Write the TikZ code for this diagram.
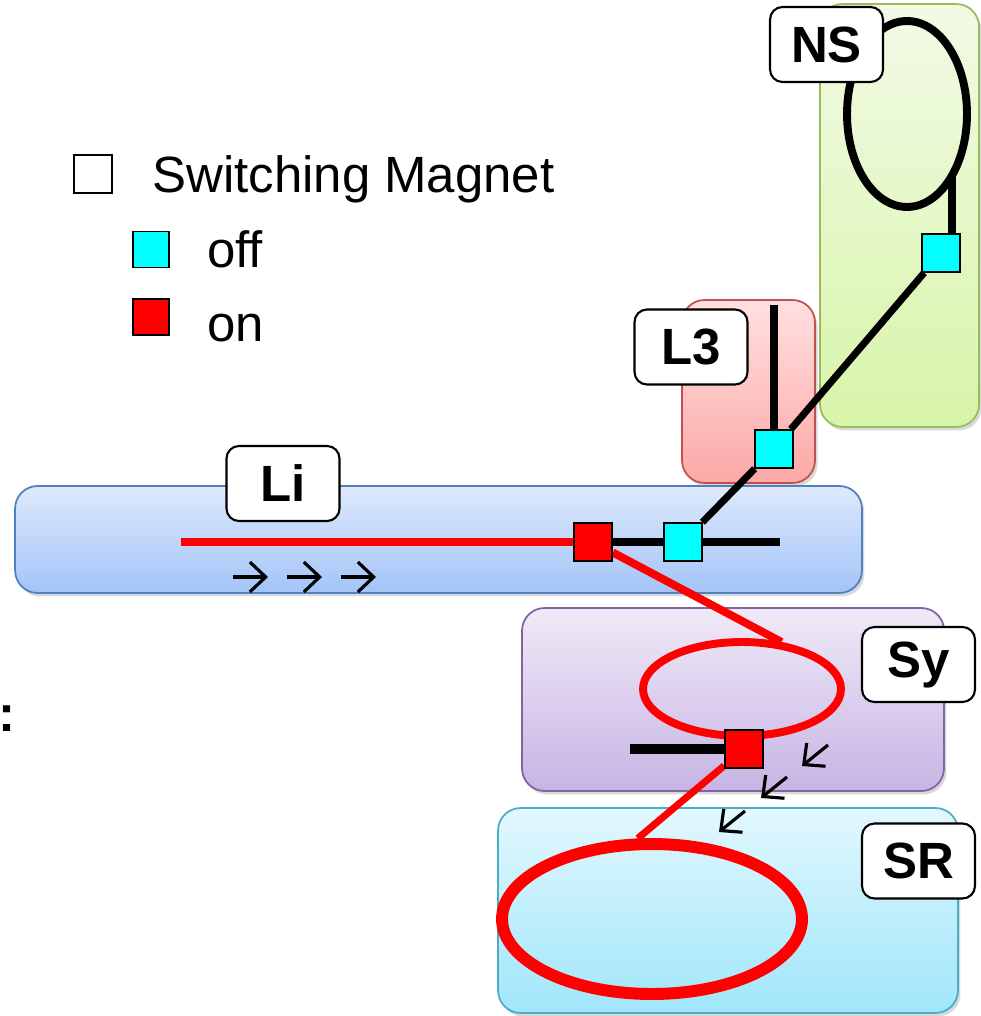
\documentclass[tikz,border=0pt]{standalone}
\usepackage{fontspec}
\setmainfont{Liberation Sans}
\usepackage{xcolor}
\usetikzlibrary{arrows.meta, positioning, shapes.geometric, shadows}
\definecolor{beamred}{RGB}{255,0,0}
\definecolor{magoff}{RGB}{0,255,255}
\definecolor{liline}{RGB}{79,129,189}
\definecolor{litop}{RGB}{222,233,252}
\definecolor{libot}{RGB}{163,196,248}
\definecolor{lthline}{RGB}{192,80,77}
\definecolor{lthtop}{RGB}{255,224,224}
\definecolor{lthbot}{RGB}{252,168,166}
\definecolor{nsline}{RGB}{155,187,89}
\definecolor{nstop}{RGB}{242,250,230}
\definecolor{nsbot}{RGB}{215,245,168}
\definecolor{syline}{RGB}{128,100,162}
\definecolor{sytop}{RGB}{240,234,247}
\definecolor{sybot}{RGB}{199,180,228}
\definecolor{srline}{RGB}{75,172,198}
\definecolor{srtop}{RGB}{226,248,254}
\definecolor{srbot}{RGB}{160,230,250}
\pgfdeclarelayer{areas}
\pgfdeclarelayer{beams}
\pgfsetlayers{areas,beams,main}

\begin{document}
\begin{tikzpicture}[
    x=0.02cm, y=-0.02cm,
    area/.style={rectangle, rounded corners=0.45cm, line width=1pt, inner sep=0pt,
        drop shadow={shadow xshift=0.05cm, shadow yshift=-0.07cm, opacity=0.3}},
    tag/.style={rectangle, rounded corners=0.25cm, draw=black, line width=1.2pt, fill=white,
        minimum width=2.26cm, minimum height=1.5cm, inner sep=0pt,
        font=\fontsize{29}{34}\selectfont\bfseries},
    magnet/.style={rectangle, draw=black, line width=0.9pt, minimum size=0.76cm, inner sep=0pt},
    ring/.style={ellipse, draw, inner sep=0pt},
    beam/.style={line width=4.5pt},
    flow/.style={-{Straight Barb[length=9pt, width=17pt]}, line width=1.8pt},
    legend/.style={anchor=base west, inner sep=0pt, font=\fontsize{29}{34}\selectfont}
]
    \useasboundingbox (0,0) rectangle (980,1016);

    \begin{pgfonlayer}{areas}
    \node[area, draw=nsline, top color=nstop, bottom color=nsbot, minimum width=3.18cm, minimum height=8.46cm] (NSArea) at (899.5,215.5) {};
    \node[area, draw=lthline, top color=lthtop, bottom color=lthbot, minimum width=2.66cm, minimum height=3.66cm] (L3Area) at (748.5,391.5) {};
    \node[area, draw=liline, top color=litop, bottom color=libot, minimum width=16.94cm, minimum height=2.14cm] (LiArea) at (438.5,539.5) {};
    \node[area, draw=syline, top color=sytop, bottom color=sybot, minimum width=8.44cm, minimum height=3.66cm] (SyArea) at (733,699.5) {};
    \node[area, draw=srline, top color=srtop, bottom color=srbot, minimum width=9.2cm, minimum height=4.1cm] (SRArea) at (728,910.5) {};
    \end{pgfonlayer}

    \node[magnet, fill=beamred] (LiOn) at (593,542) {};
    \node[magnet, fill=magoff] (LiOff) at (683,542) {};
    \node[magnet, fill=magoff] (L3Off) at (774,449) {};
    \node[magnet, fill=magoff] (NSOff) at (941,253) {};
    \node[magnet, fill=beamred] (SyOn) at (744,749) {};

    \coordinate (listart) at (181,542);
    \coordinate (liend) at (780,542);
    \coordinate (l3top) at (774,305);
    \coordinate (nsstub) at (952,175);
    \coordinate (systart) at (630,749);

    \begin{pgfonlayer}{beams}
    \node[ring, line width=4.5pt, minimum width=2.4cm, minimum height=3.72cm] (NSRing) at (907,114) {};
    \node[ring, draw=beamred, line width=4.5pt, minimum width=3.96cm, minimum height=1.88cm] (SyRing) at (742,689) {};
    \node[ring, draw=beamred, line width=6.8pt, minimum width=6cm, minimum height=3cm] (SRRing) at (652,919) {};

    \draw[beam, beamred] (listart) -- (LiOn);
    \draw[beam] (LiOn) -- (liend);
    \draw[beam, line width=4pt] (LiOff) -- (L3Off) -- (NSOff);
    \draw[beam] (l3top) -- (L3Off);
    \draw[beam, line width=5pt] (nsstub) -- (nsstub |- NSOff.north);
    \draw[beam, beamred] (LiOn) -- (SyRing.50);
    \draw[beam, line width=5.5pt] (systart) -- (SyOn);
    \draw[beam, beamred, line width=4pt] (SyOn) -- (SRRing.100);
    \end{pgfonlayer}

    \foreach \x in {233,287,341}
        \draw[flow] (\x,577) -- ++(35,0);
    \foreach \x/\y in {828/745, 787/777, 745/811}
        \draw[flow] (\x,\y) -- ++(-26,21);

    \node[tag] (NSTag) at (826.5,44.5) {NS};
    \node[tag] (L3Tag) at (691,347) {L3};
    \node[tag] (LiTag) at (283,483.5) {Li};
    \node[tag] (SyTag) at (918.5,664.5) {Sy};
    \node[tag] (SRTag) at (918.5,861) {SR};

    \node[magnet, fill=white, line width=0.6pt] (keyAll) at (93,174) {};
    \node[legend] (keyAllText) at (152,193) {Switching Magnet};
    \node[magnet, fill=magoff, minimum size=0.72cm] (keyOff) at (151,249.5) {};
    \node[legend] (keyOffText) at (207,268) {off};
    \node[magnet, fill=beamred, minimum size=0.72cm] (keyOn) at (151,317) {};
    \node[legend] (keyOnText) at (207,341) {on};

    \node[legend, font=\fontsize{29}{34}\selectfont\bfseries] (sideMark) at (-2,731) {:};
\end{tikzpicture}
\end{document}
